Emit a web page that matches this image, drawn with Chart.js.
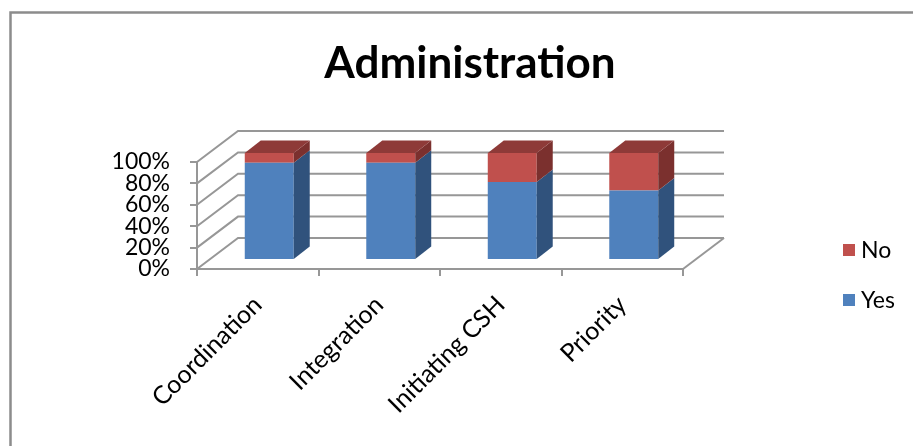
<!DOCTYPE html>
<html>
<head>
<meta charset="utf-8">
<title>Administration</title>
<script src="https://cdn.jsdelivr.net/npm/chart.js@4/dist/chart.umd.min.js"></script>
<style>
  html, body { margin: 0; padding: 0; background: #ffffff; }
  #wrap { width: 913px; height: 446px; }
</style>
</head>
<body>
<div id="wrap"><canvas id="chart" width="913" height="446"></canvas></div>
<script>
// Data
const categories = ['Coordination', 'Integration', 'Initiating CSH', 'Priority'];
const yesValues = [91, 91, 73, 65];
const noValues = [9, 9, 27, 35];
const yTickValues = [0, 20, 40, 60, 80, 100];
const seriesNames = ['Yes', 'No'];

// 3D look: floor depth, bar offset into the depth, bar thickness
const DEPTH = { dx: 41, dy: -31 };
const BAR_OFFSET = { dx: 11.5, dy: -9 };
const BAR_DEPTH = { dx: 16, dy: -12.5 };
const LINE_COLOR = '#979797';
const FONT = 'Lato';

const colors = {
  Yes: { front: '#4F81BD', side: '#30527C', top: '#3E6699' },
  No:  { front: '#C0504D', side: '#7B302E', top: '#8E3A38' }
};

const box3d = {
  id: 'box3d',
  beforeDraw(chart) {
    const ctx = chart.ctx;
    ctx.save();
    ctx.strokeStyle = '#8c8c8c';
    ctx.lineWidth = 2.5;
    ctx.beginPath();
    ctx.moveTo(10.5, chart.height);
    ctx.lineTo(10.5, 12.5);
    ctx.lineTo(chart.width, 12.5);
    ctx.stroke();
    ctx.restore();
  },
  beforeDatasetsDraw(chart) {
    const { ctx, chartArea: a, scales: { y } } = chart;
    ctx.save();
    ctx.strokeStyle = LINE_COLOR;
    ctx.lineWidth = 2;
    // side wall diagonals and back wall gridlines
    yTickValues.forEach(v => {
      const py = y.getPixelForValue(v);
      ctx.beginPath();
      ctx.moveTo(a.left, py);
      ctx.lineTo(a.left + DEPTH.dx, py + DEPTH.dy);
      ctx.lineTo(a.right + DEPTH.dx, py + DEPTH.dy);
      ctx.stroke();
    });
    // right edge of the floor
    ctx.beginPath();
    ctx.moveTo(a.right, a.bottom);
    ctx.lineTo(a.right + DEPTH.dx, a.bottom + DEPTH.dy);
    ctx.stroke();
    ctx.restore();
    // bars sit inside the depth of the floor
    ctx.save();
    ctx.translate(BAR_OFFSET.dx, BAR_OFFSET.dy);
  },
  afterDatasetsDraw(chart) {
    const ctx = chart.ctx;
    const last = chart.data.datasets.length - 1;
    chart.data.datasets.forEach((ds, i) => {
      const c = colors[ds.label];
      chart.getDatasetMeta(i).data.forEach(bar => {
        const { x, y, base, width } = bar.getProps(['x', 'y', 'base', 'width'], true);
        const l = x - width / 2, r = x + width / 2;
        ctx.fillStyle = c.side;
        ctx.beginPath();
        ctx.moveTo(r, base);
        ctx.lineTo(r + BAR_DEPTH.dx, base + BAR_DEPTH.dy);
        ctx.lineTo(r + BAR_DEPTH.dx, y + BAR_DEPTH.dy);
        ctx.lineTo(r, y);
        ctx.closePath();
        ctx.fill();
        if (i === last) {
          ctx.fillStyle = c.top;
          ctx.beginPath();
          ctx.moveTo(l, y);
          ctx.lineTo(l + BAR_DEPTH.dx, y + BAR_DEPTH.dy);
          ctx.lineTo(r + BAR_DEPTH.dx, y + BAR_DEPTH.dy);
          ctx.lineTo(r, y);
          ctx.closePath();
          ctx.fill();
        }
      });
    });
    ctx.restore();
  },
  afterDraw(chart) {
    // legend, last series on top
    const ctx = chart.ctx;
    const items = chart.data.datasets.slice().reverse();
    ctx.save();
    ctx.font = '23px ' + FONT;
    ctx.textBaseline = 'middle';
    ctx.textAlign = 'left';
    items.forEach((ds, k) => {
      const cy = 250 + k * 50;
      ctx.fillStyle = ds.backgroundColor;
      ctx.fillRect(843, cy - 6, 12, 12);
      ctx.fillStyle = '#000000';
      ctx.fillText(ds.label, 861, cy + 1);
    });
    ctx.restore();
  }
};

new Chart(document.getElementById('chart'), {
  type: 'bar',
  data: {
    labels: categories,
    datasets: [
      { label: seriesNames[0], data: yesValues, backgroundColor: colors.Yes.front },
      { label: seriesNames[1], data: noValues, backgroundColor: colors.No.front }
    ]
  },
  options: {
    responsive: false,
    animation: false,
    events: [],
    layout: { padding: { left: 27, right: 0, top: 0, bottom: 0 } },
    datasets: { bar: { categoryPercentage: 1, barPercentage: 0.403, borderWidth: 0, clip: false } },
    scales: {
      x: {
        stacked: true,
        offset: true,
        grid: { offset: true, drawOnChartArea: false, drawTicks: true, tickLength: 7, color: LINE_COLOR, lineWidth: 2 },
        border: { display: true, color: LINE_COLOR, width: 2 },
        ticks: { autoSkip: false, minRotation: 45, maxRotation: 45, padding: 14, color: '#000000', font: { family: FONT, size: 25 } },
        afterFit(s) { s.height = 177; }
      },
      y: {
        stacked: true,
        min: 0,
        max: 100,
        afterBuildTicks(s) { s.ticks = yTickValues.map(v => ({ value: v })); },
        grid: { drawOnChartArea: false, drawTicks: true, tickLength: 7, color: LINE_COLOR, lineWidth: 2 },
        border: { display: true, color: LINE_COLOR, width: 2 },
        ticks: { autoSkip: false, padding: 20, color: '#000000', font: { family: FONT, size: 23, lineHeight: 1 }, callback: v => v + '%' },
        afterFit(s) { s.width = 170; }
      },
      yRight: {
        position: 'right',
        display: true,
        grid: { display: false },
        border: { display: false },
        ticks: { display: false },
        afterFit(s) { s.width = 230; }
      }
    },
    plugins: {
      legend: { display: false },
      tooltip: { enabled: false },
      title: {
        display: true,
        text: 'Administration',
        color: '#000000',
        font: { family: FONT, size: 44, weight: 'bold', lineHeight: 1.2 },
        padding: { top: 37, bottom: 72.2 }
      }
    }
  },
  plugins: [box3d]
});
</script>
</body>
</html>
